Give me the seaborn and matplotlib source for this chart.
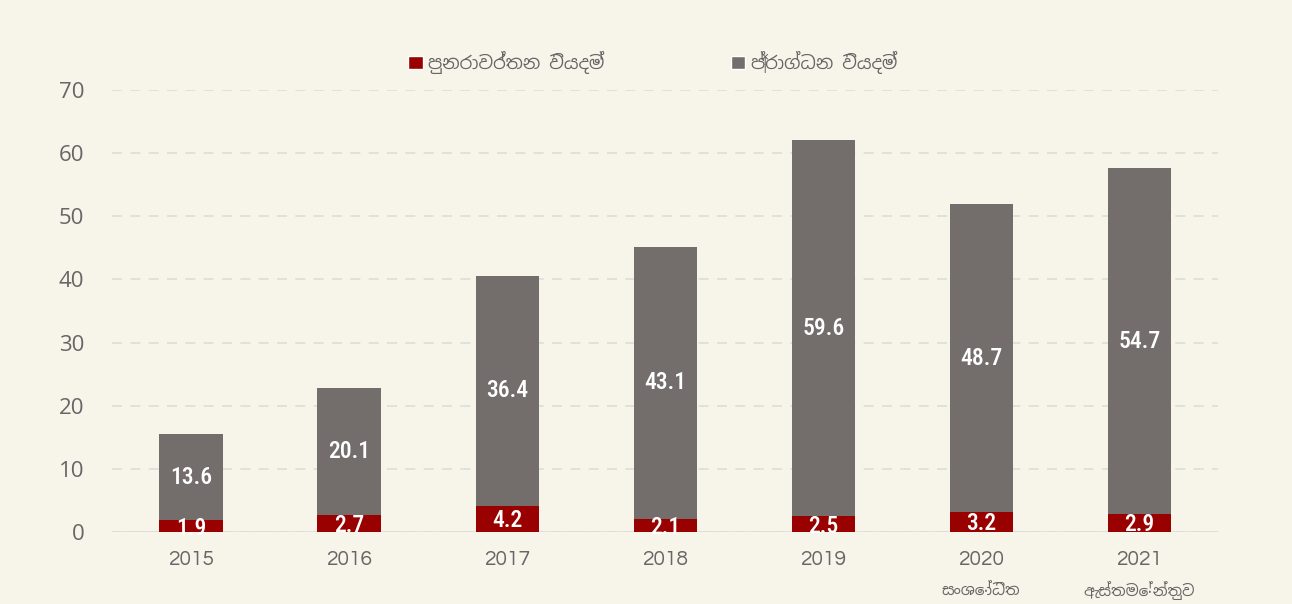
import pandas as pd
import matplotlib.pyplot as plt
import seaborn as sns
from matplotlib.patches import Patch

# --- Data ---
years = ['2015', '2016', '2017', '2018', '2019', '2020', '2021']
year_notes = ['', '', '', '', '', 'සංශෝධිත', 'ඇස්තමේන්තුව']
recurrent = [1.9, 2.7, 4.2, 2.1, 2.5, 3.2, 2.9]
capital = [13.6, 20.1, 36.4, 43.1, 59.6, 48.7, 54.7]
series_names = ['පුනරාවර්තන වියදම්', 'ප්‍රාග්ධන වියදම්']

df = pd.DataFrame({'year': years, 'recurrent': recurrent, 'capital': capital})
df['total'] = df['recurrent'] + df['capital']

bg = '#F7F4E9'
red = '#990000'
grey = '#736E6C'
text_grey = '#666666'
sinhala = ['Noto Sans Sinhala', 'DejaVu Sans']

sns.set_style('white')
plt.rcParams['font.family'] = ['Open Sans', 'Noto Sans Sinhala', 'DejaVu Sans']

fig = plt.figure(figsize=(12.92, 6.04), dpi=100, facecolor=bg)
ax = fig.add_axes([0.0867, 0.119, 0.8563, 0.732])
ax.set_facecolor(bg)

# stacked bars: grey total first, red base drawn over it
sns.barplot(data=df, x='year', y='total', color=grey, width=0.4,
            saturation=1, linewidth=0, ax=ax, zorder=3)
sns.barplot(data=df, x='year', y='recurrent', color=red, width=0.4,
            saturation=1, linewidth=0, ax=ax, zorder=4)

ax.set_ylim(0, 70)
ax.set_xlim(-0.5, len(years) - 0.5)
ax.set_yticks(range(0, 71, 10))
ax.yaxis.grid(True, color='#DCDCDA', linestyle=(0, (6, 5)), linewidth=1.2, zorder=0)
ax.axhline(0, color='#DCDCDA', linewidth=1.2, zorder=1)
for s in ax.spines.values():
    s.set_visible(False)
ax.tick_params(axis='both', length=0, labelcolor=text_grey)
ax.tick_params(axis='x', pad=13, labelsize=15)
ax.tick_params(axis='y', pad=20, labelsize=16)
for lab in ax.get_xticklabels():
    lab.set_family(['Questrial', 'DejaVu Sans'])
ax.set_xlabel('')
ax.set_ylabel('')

# notes under 2020 / 2021
for i, note in enumerate(year_notes):
    if note:
        ax.text(i, -0.133, note, transform=ax.get_xaxis_transform(),
                ha='center', va='center', fontsize=11, color=text_grey,
                family=sinhala)

# value labels
lab_kw = dict(ha='center', va='center', color='white', fontsize=17,
              fontweight='medium', family=['Roboto Condensed', 'DejaVu Sans'],
              zorder=5)
for i in range(len(years)):
    ax.text(i, recurrent[i] / 2 - 0.3, f'{recurrent[i]:.1f}', clip_on=False, **lab_kw)
    ax.text(i, recurrent[i] + capital[i] / 2, f'{capital[i]:.1f}', **lab_kw)

handles = [Patch(facecolor=red), Patch(facecolor=grey)]
fig.legend(handles, series_names, loc='center', bbox_to_anchor=(0.505, 0.897),
           ncol=2, frameon=False, labelcolor=text_grey,
           handlelength=0.8, handleheight=0.8, handletextpad=0.3,
           columnspacing=7, prop={'family': sinhala, 'size': 13})

fig.savefig('out.png', dpi=100, facecolor=bg)
